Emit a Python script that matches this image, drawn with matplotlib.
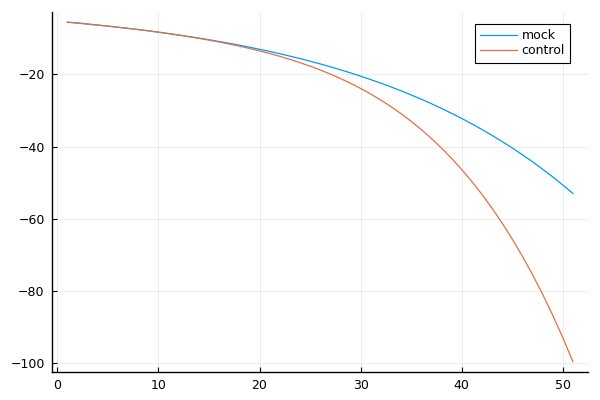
import numpy as np
import matplotlib
matplotlib.use("Agg")
import matplotlib.pyplot as plt

# x runs 1..51
x = list(range(1, 52))
mock = [-5.50, -5.75, -6.02, -6.30, -6.59, -6.90, -7.22, -7.55, -7.90, -8.27,
        -8.65, -9.05, -9.47, -9.91, -10.37, -10.85, -11.35, -11.88, -12.43, -13.01,
        -13.61, -14.24, -14.90, -15.59, -16.31, -17.07, -17.86, -18.69, -19.55, -20.46,
        -21.41, -22.40, -23.43, -24.52, -25.66, -26.85, -28.09, -29.39, -30.75, -32.18,
        -33.67, -35.23, -36.86, -38.57, -40.36, -42.23, -44.18, -46.23, -48.37, -50.61,
        -52.96]
control = [-5.50, -5.75, -6.02, -6.30, -6.59, -6.90, -7.22, -7.55, -7.90, -8.28,
           -8.67, -9.08, -9.52, -9.98, -10.47, -10.99, -11.55, -12.14, -12.78, -13.46,
           -14.18, -14.96, -15.81, -16.71, -17.69, -18.74, -19.88, -21.11, -22.43, -23.87,
           -25.42, -27.10, -28.90, -30.86, -32.98, -35.26, -37.72, -40.37, -43.23, -46.32,
           -49.64, -53.20, -57.04, -61.16, -65.59, -70.33, -75.41, -80.85, -86.68, -92.90,
           -99.56]
labels = ["mock", "control"]
colors = ["#009af9", "#e26f46"]
xticks = [0, 10, 20, 30, 40, 50]
yticks = [-20, -40, -60, -80, -100]

fig = plt.figure(figsize=(6, 4), dpi=100)
ax = fig.add_axes([52.3 / 600, 1 - 371.7 / 400, (588 - 52.3) / 600, (371.7 - 12) / 400])

for ys, lab, c in zip([mock, control], labels, colors):
    ax.plot(x, ys, color=c, lw=0.9, label=lab)

# 3% padding like Plots.jl
lo, hi = min(x), max(x)
ax.set_xlim(lo - 0.03 * (hi - lo), hi + 0.03 * (hi - lo))
ymin = min(min(mock), min(control))
ymax = max(max(mock), max(control))
ax.set_ylim(ymin - 0.03 * (ymax - ymin), ymax + 0.03 * (ymax - ymin))

ax.set_xticks(xticks)
ax.set_yticks(yticks)
ax.grid(True, color="black", alpha=0.1, lw=0.5)
ax.set_axisbelow(True)
for s in ["top", "right"]:
    ax.spines[s].set_visible(False)
for s in ["left", "bottom"]:
    ax.spines[s].set_linewidth(1.0)
ax.tick_params(direction="in", length=3.5, width=0.8, labelsize=9, pad=5.5)

ax.legend(loc="upper right", bbox_to_anchor=(570 / 600, 1 - 24 / 400),
          bbox_transform=fig.transFigure, borderaxespad=0, fontsize=9,
          fancybox=False, edgecolor="black", framealpha=1,
          handlelength=2.9, handletextpad=0.4, labelspacing=0.2, borderpad=0.4)
ax.get_legend().get_frame().set_linewidth(0.8)

fig.savefig("out.png", dpi=100)
